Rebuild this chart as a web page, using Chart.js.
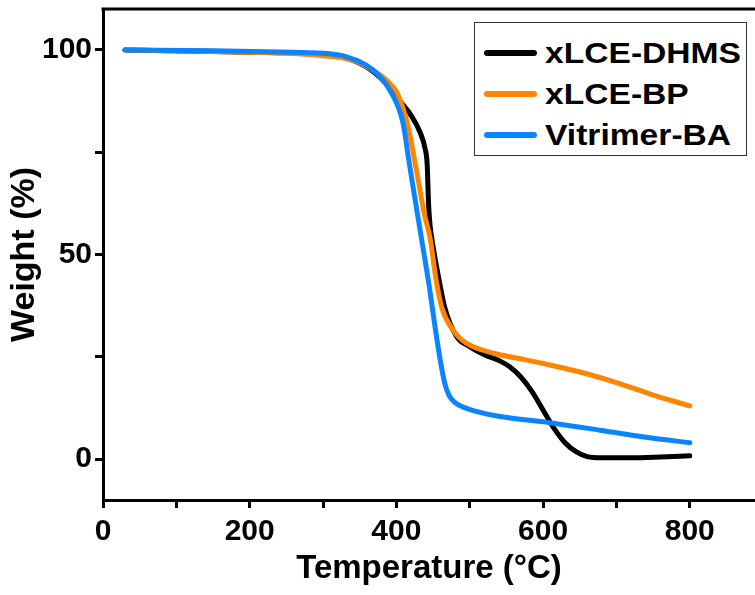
<!DOCTYPE html>
<html>
<head>
<meta charset="utf-8">
<script src="https://cdn.jsdelivr.net/npm/chart.js@4"></script>
<style>
  body { margin: 0; background: #fff; }
  #wrap { position: relative; width: 755px; height: 595px; }
  #legend {
    position: absolute; left: 474px; top: 22px; width: 273px; height: 134px;
    border: 1.5px solid #333; background: #fff; box-sizing: border-box;
    font-family: "Liberation Sans", Arial, sans-serif; font-weight: bold; font-size: 30px;
  }
  .row { position: absolute; left: 0; height: 40px; line-height: 40px; white-space: nowrap; }
  .swatch { position: absolute; left: 9px; top: 17px; width: 53px; height: 6px; border-radius: 3px; }
  .lbl { position: absolute; left: 70px; top: 0; transform: scaleX(1.12); transform-origin: left center; }
</style>
</head>
<body>
<div id="wrap">
  <canvas id="myChart" width="755" height="595"></canvas>
  <div id="legend"></div>
</div>
<script>
  const names = ['xLCE-DHMS', 'xLCE-BP', 'Vitrimer-BA'];
  const colors = ['#000000', '#ff8400', '#0a84ff'];

  // temperature (°C) and weight (%)
  const dhmsT = [30, 150, 250, 300, 340, 370, 390, 405, 420, 432, 439, 442, 444, 446, 450, 458, 466, 482, 500, 520, 541, 555, 570, 585, 600, 615, 630, 645, 660, 680, 720, 760, 800];
  const dhmsW = [100, 99.6, 99.3, 98.8, 97.5, 94.5, 91, 87.5, 84, 80, 76, 72, 62, 57, 52, 44, 37, 30, 27.5, 25.5, 24, 22.5, 20, 16.5, 12, 7.5, 4, 1.8, 0.6, 0.3, 0.3, 0.5, 0.8];
  const bpT = [30, 150, 250, 300, 340, 370, 390, 401, 415, 428, 438, 446, 454, 462, 477, 490, 504, 520, 541, 575, 609, 654, 700, 746, 800];
  const bpW = [100, 99.6, 99.2, 98.6, 97.5, 94.8, 92, 89.5, 82, 70, 60, 54, 44, 37, 31.6, 29, 27.5, 26.5, 25.5, 24.3, 23, 21.1, 18.7, 15.9, 13];
  const baT = [30, 150, 241, 300, 332, 368, 391, 409, 417, 425, 436, 445, 453, 460, 466, 472, 480, 490, 510, 541, 609, 680, 746, 800];
  const baW = [100, 99.8, 99.5, 99.2, 98.3, 95.1, 90.2, 82.2, 73, 64, 52, 42, 32, 24, 18.5, 15.5, 13.8, 12.8, 11.6, 10.4, 8.9, 7, 5.2, 4];

  const xTicks = [0, 100, 200, 300, 400, 500, 600, 700, 800];
  const yTicks = [0, 25, 50, 75, 100];

  const series = [[dhmsT, dhmsW], [bpT, bpW], [baT, baW]];
  const datasets = series.map(function (s, i) {
    return {
      label: names[i],
      data: s[0].map(function (t, j) { return { x: t, y: s[1][j] }; }),
      borderColor: colors[i],
      backgroundColor: colors[i],
      borderWidth: 5,
      pointRadius: 0,
      cubicInterpolationMode: 'monotone',
      borderCapStyle: 'round',
      borderJoinStyle: 'round'
    };
  });

  // draw order: black under orange under blue like the picture
  datasets.reverse();

  const topBorder = {
    id: 'topBorder',
    afterDraw: function (chart) {
      const ctx = chart.ctx, a = chart.chartArea;
      ctx.save();
      ctx.strokeStyle = '#000';
      ctx.lineWidth = 3;
      ctx.beginPath();
      ctx.moveTo(a.left - 1.5, a.top);
      ctx.lineTo(a.right, a.top);
      ctx.stroke();
      ctx.restore();
    }
  };

  function noEdgePad(axis) {
    axis.paddingTop = 0;
    axis.paddingBottom = 0;
    axis.paddingLeft = 0;
    axis.paddingRight = 0;
  }

  const font = 'Liberation Sans';
  const config = {
    type: 'line',
    data: { datasets: datasets },
    options: {
      responsive: false,
      animation: false,
      layout: { padding: { top: 9, right: 0, left: 0, bottom: 0 } },
      plugins: { legend: { display: false }, tooltip: { enabled: false } },
      scales: {
        x: {
          type: 'linear',
          min: 0,
          max: 889,
          afterBuildTicks: function (axis) { axis.ticks = xTicks.map(function (v) { return { value: v }; }); },
          afterFit: function (axis) { axis.height = 95; noEdgePad(axis); },
          ticks: {
            color: '#000',
            font: { family: font, size: 30, weight: 'bold' },
            padding: 6,
            maxRotation: 0,
            callback: function (v) { return v % 200 === 0 ? v : ''; }
          },
          grid: { drawOnChartArea: false, drawTicks: true, tickLength: 8, tickWidth: 3, tickColor: '#000' },
          border: { display: true, color: '#000', width: 3 },
          title: {
            display: true,
            text: 'Temperature (°C)',
            color: '#000',
            font: { family: font, size: 33, weight: 'bold' },
            padding: { top: 0, bottom: 6 }
          }
        },
        y: {
          type: 'linear',
          min: -10,
          max: 110,
          afterBuildTicks: function (axis) { axis.ticks = yTicks.map(function (v) { return { value: v }; }); },
          afterFit: function (axis) { axis.width = 103; noEdgePad(axis); },
          ticks: {
            color: '#000',
            font: { family: font, size: 30, weight: 'bold' },
            padding: 3,
            callback: function (v) { return v % 50 === 0 ? v : ''; }
          },
          grid: { drawOnChartArea: false, drawTicks: true, tickLength: 8, tickWidth: 3, tickColor: '#000' },
          border: { display: true, color: '#000', width: 3 },
          title: {
            display: true,
            text: 'Weight (%)',
            color: '#000',
            font: { family: font, size: 34, weight: 'bold' },
            padding: { top: 4, bottom: 0 }
          }
        }
      }
    },
    plugins: [topBorder]
  };

  var myChart = new Chart(document.getElementById('myChart'), config);

  // legend box inside the plot
  var legend = document.getElementById('legend');
  names.forEach(function (n, i) {
    var row = document.createElement('div');
    row.className = 'row';
    row.style.top = (10 + i * 41) + 'px';
    row.innerHTML = '<span class="swatch" style="background:' + colors[i] + '"></span><span class="lbl">' + n + '</span>';
    legend.appendChild(row);
  });
</script>
</body>
</html>
